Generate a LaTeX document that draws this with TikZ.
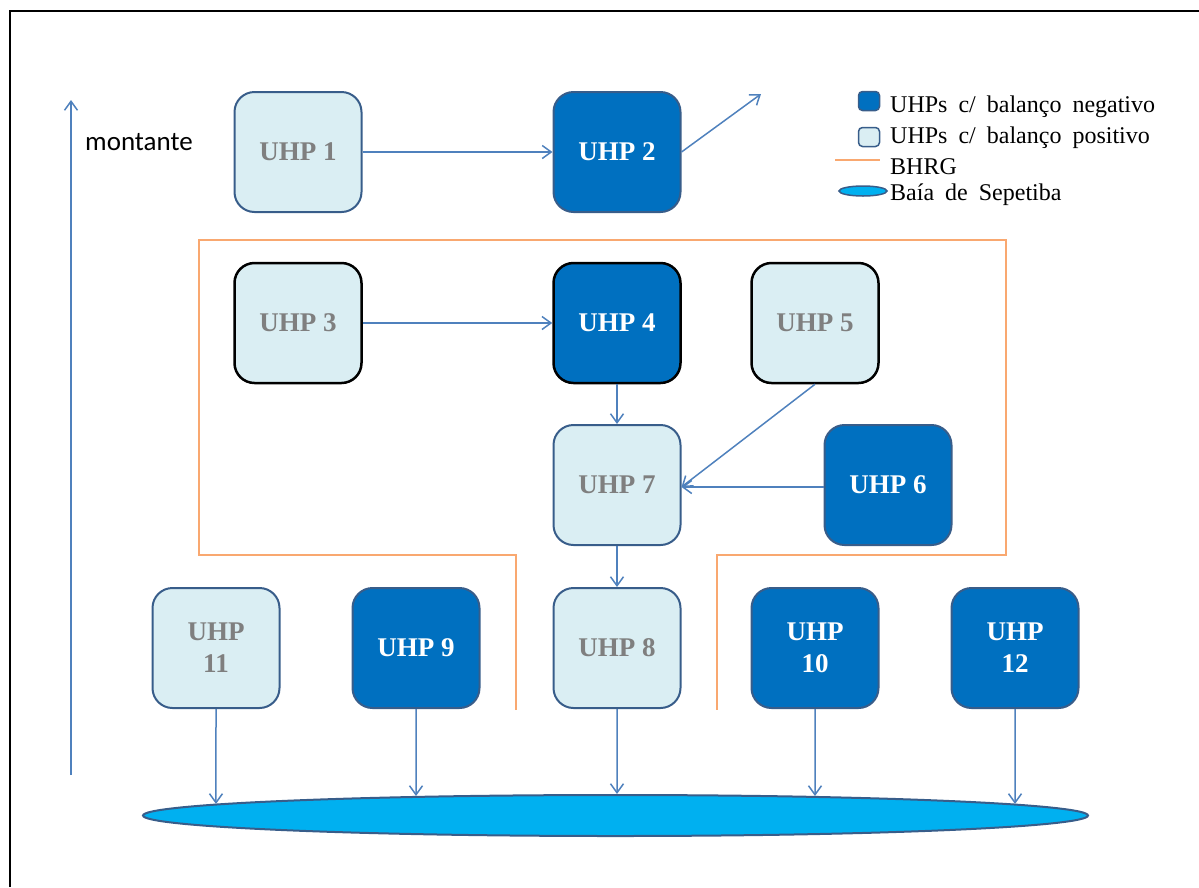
\documentclass[tikz,border=0pt]{standalone}
\usepackage{fontspec}
\setmainfont{Liberation Serif}
\newfontfamily\montfont{Carlito}
\usetikzlibrary{arrows.meta,shapes.geometric,intersections}
\definecolor{conn}{HTML}{4F81BD}
\definecolor{bord}{HTML}{385D8A}
\definecolor{lightfill}{HTML}{DAEEF3}
\definecolor{darkfill}{HTML}{0070C0}
\definecolor{bayfill}{HTML}{00B0F0}
\definecolor{orangeline}{HTML}{F9A870}
\definecolor{graytext}{HTML}{7F7F7F}
\newcommand\legendfont{\fontsize{24}{28}\selectfont\spaceskip=11pt\relax}
\begin{document}
\begin{tikzpicture}[x=1pt,y=-1pt,
  box/.style={rounded corners=20pt, minimum width=127pt, minimum height=120pt,
    line width=2pt, inner sep=0pt, align=center,
    font=\fontsize{27}{32}\selectfont\bfseries},
  posbox/.style={box, draw=bord, fill=lightfill, text=graytext},
  negbox/.style={box, draw=bord, fill=darkfill, text=white},
  blackedge/.style={draw=black, line width=2.5pt},
  conn/.style={draw=conn, line width=1.5pt, -{Straight Barb[length=9pt,width=13pt,line width=1.5pt]}},
  legtext/.style={anchor=west, inner sep=0pt, font=\legendfont},
  orangepath/.style={draw=orangeline, line width=2pt}
]
\useasboundingbox (0,0) rectangle (1199,887);
% frame
\draw[line width=2.5pt] (10,887) -- (10,11) -- (1199,11);

% montante arrow
\coordinate (mbot) at (71,775);
\coordinate (mtop) at (71,100);
\draw[conn] (mbot) -- (mtop);
\node (mont) at (139,142) {\montfont\fontsize{27}{30}\selectfont montante};

% BHRG boundary
\draw[orangepath] (516,710) -- (516,555) -- (199,555) -- (199,240) -- (1006,240) -- (1006,555) -- (717,555) -- (717,710);

% boxes
\node[posbox] (u1) at (298,152) {UHP 1};
\node[negbox] (u2) at (617,152) {UHP 2};
\node[posbox, blackedge] (u3) at (298,323) {UHP 3};
\node[negbox, blackedge] (u4) at (617,323) {UHP 4};
\node[posbox, blackedge] (u5) at (815,323) {UHP 5};
\node[posbox] (u7) at (617,485) {UHP 7};
\node[negbox] (u6) at (888,485) {UHP 6};
\node[posbox] (u11) at (216,648) {UHP\\11};
\node[negbox] (u9) at (416,648) {UHP 9};
\node[posbox] (u8) at (617,648) {UHP 8};
\node[negbox] (u10) at (815,648) {UHP\\10};
\node[negbox] (u12) at (1015,648) {UHP\\12};

% bay
\node[ellipse, draw=bord, fill=bayfill, line width=2pt, minimum width=945pt,
      minimum height=41pt, inner sep=0pt] (bay) at (615.5,815.5) {};
\path[name path=baypath] (bay.center) ellipse [x radius=473.5, y radius=21.5];

% connectors
\coordinate (out2) at (761,94);
\draw[conn] (u1) -- (u2);
\draw[conn] (u2.east) -- (out2);
\draw[conn] (u3) -- (u4);
\draw[conn] (u4) -- (u7);
\draw[conn] (u5.south) -- ([yshift=-2pt]u7.east);
\draw[conn] (u6.west |- 0,487) -- ([yshift=-2pt]u7.east);
\draw[conn] (u7) -- (u8);

\path[name path=va] (u11.south) -- (u11.south |- bay.center);
\path[name path=vb] (u9.south) -- (u9.south |- bay.center);
\path[name path=vc] (u8.south) -- (u8.south |- bay.center);
\path[name path=vd] (u10.south) -- (u10.south |- bay.center);
\path[name path=ve] (u12.south) -- (u12.south |- bay.center);
\path[name intersections={of=va and baypath, by=ia}];
\path[name intersections={of=vb and baypath, by=ib}];
\path[name intersections={of=vc and baypath, by=ic}];
\path[name intersections={of=vd and baypath, by=id}];
\path[name intersections={of=ve and baypath, by=ie}];
\draw[conn] (u11.south) -- (ia);
\draw[conn] (u9.south) -- (ib);
\draw[conn] (u8.south) -- (ic);
\draw[conn] (u10.south) -- (id);
\draw[conn] (u12.south) -- (ie);

% legend
\node[draw=bord, fill=darkfill, line width=1.5pt, rounded corners=4pt,
      minimum width=21pt, minimum height=19pt, inner sep=0pt] (lneg) at (869,101) {};
\node[draw=bord, fill=lightfill, line width=1.5pt, rounded corners=4pt,
      minimum width=21pt, minimum height=19pt, inner sep=0pt] (lpos) at (869,137) {};
\coordinate (lo1) at (835,160);
\coordinate (lo2) at (880,160);
\draw[orangepath] (lo1) -- (lo2);
\node[ellipse, draw=bord, fill=bayfill, line width=1.5pt, minimum width=48pt,
      minimum height=10pt, inner sep=0pt] (lbay) at (863,191) {};

\node[legtext] (t1) at (890,107) {UHPs c/ balanço negativo};
\node[legtext] (t2) at (890,138) {UHPs c/ balanço positivo};
\node[legtext] (t3) at (890,167) {BHRG};
\node[legtext] (t4) at (890,195) {Baía de Sepetiba};
\end{tikzpicture}
\end{document}
